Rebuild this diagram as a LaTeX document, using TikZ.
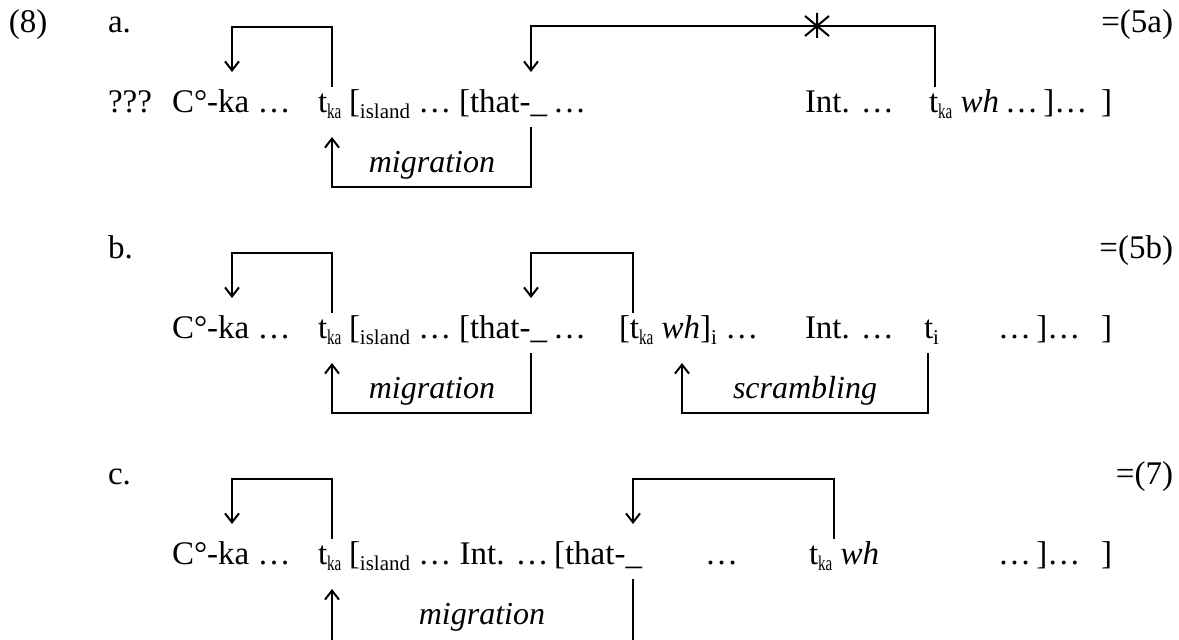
\documentclass[tikz,border=0pt]{standalone}
\usepackage{fontspec}
\setmainfont{Liberation Serif}
\usetikzlibrary{arrows.meta,calc}
% lowered small subscripts used for labels and trace indices
\newcommand{\lsub}[1]{\raisebox{-3pt}{\fontsize{10.5}{10.5}\selectfont #1}}
\newcommand{\ksub}{\raisebox{-3pt}{\fontsize{10.5}{10.5}\selectfont\scalebox{0.72}[1]{ka}}}
\begin{document}
\begin{tikzpicture}[x=0.5pt,y=-0.5pt,
  txt/.style={inner sep=0pt,outer sep=0pt,font=\fontsize{16.5}{19}\selectfont},
  lbl/.style={inner sep=0pt,outer sep=0pt,font=\fontsize{16}{19}\selectfont\itshape,anchor=base},
  mv/.style={line width=1pt,-{Straight Barb[length=4.5pt,width=7pt]}},
  ln/.style={line width=1pt}]
\useasboundingbox (0,0) rectangle (1179,640);
\clip (0,0) rectangle (1179,640);

% ---------- (8a) ----------
\node[txt,anchor=base west] (n8) at (9,33) {(8)};
\node[txt,anchor=base west] (la) at (108,33) {a.};
\node[txt,anchor=base east] (ra) at (1173,33) {=(5a)};
\node[txt,anchor=base west] (aq) at (108,113) {???};
\node[txt,anchor=base west] (ac) at (172,113) {C°-ka …};
\node[txt,anchor=base west] (at) at (318,113) {t\ksub};
\node[txt,anchor=base west] (ai) at (349,113) {[\lsub{island} …};
\node[txt,anchor=base east] (ath) at (547,113) {[that-\_};
\node[txt,anchor=base west] (ad1) at (553,113) {…};
\node[txt,anchor=base west] (aint) at (805,113) {Int. …};
\node[txt,anchor=base west] (awh) at (929,113) {t\ksub\ \textit{wh}};
\node[txt,anchor=base west] (adots) at (1005,113) {…\,]…};
\node[txt,anchor=base east] (aend) at (1112,113) {]};

\coordinate (a1s) at (332,87);  \coordinate (a1e) at (232,72);
\coordinate (a2s) at (935,87);  \coordinate (a2e) at (531,72);
\coordinate (a3s) at (531,127); \coordinate (a3e) at (332,137);
\coordinate (star) at (817,26);
\draw[mv] (a1s) -- ++(0,-60) -| (a1e);
\draw[mv] (a2s) -- ++(0,-61) -| (a2e);
\draw[mv] (a3s) -- ++(0,60) -| (a3e);
\draw[ln] ($(star)+(0,-13)$) -- ($(star)+(0,12)$)
          ($(star)+(-12,-10)$) -- ($(star)+(12,10)$)
          ($(star)+(12,-10)$) -- ($(star)+(-12,10)$);
\node[lbl] (am) at (432,173) {migration};

% ---------- (8b) ----------
\node[txt,anchor=base west] (lb) at (108,259) {b.};
\node[txt,anchor=base east] (rb) at (1173,259) {=(5b)};
\node[txt,anchor=base west] (bc) at (172,339) {C°-ka …};
\node[txt,anchor=base west] (bt) at (318,339) {t\ksub};
\node[txt,anchor=base west] (bi) at (349,339) {[\lsub{island} …};
\node[txt,anchor=base east] (bth) at (547,339) {[that-\_};
\node[txt,anchor=base west] (bd1) at (553,339) {…};
\node[txt,anchor=base west] (bwh) at (619,339) {[t\ksub\ \textit{wh}]\lsub{i} …};
\node[txt,anchor=base west] (bint) at (805,339) {Int. …};
\node[txt,anchor=base west] (bti) at (924,339) {t\lsub{i}};
\node[txt,anchor=base west] (bdots) at (998,339) {…\,]…};
\node[txt,anchor=base east] (bend) at (1112,339) {]};

\coordinate (b1s) at (332,313); \coordinate (b1e) at (232,298);
\coordinate (b2s) at (633,313); \coordinate (b2e) at (531,298);
\coordinate (b3s) at (531,353); \coordinate (b3e) at (332,363);
\coordinate (b4s) at (928,353); \coordinate (b4e) at (682,363);
\draw[mv] (b1s) -- ++(0,-60) -| (b1e);
\draw[mv] (b2s) -- ++(0,-60) -| (b2e);
\draw[mv] (b3s) -- ++(0,60) -| (b3e);
\draw[mv] (b4s) -- ++(0,60) -| (b4e);
\node[lbl] (bm) at (432,399) {migration};
\node[lbl] (bs) at (805,399) {scrambling};

% ---------- (8c) ----------
\node[txt,anchor=base west] (lc) at (108,485) {c.};
\node[txt,anchor=base east] (rc) at (1173,485) {=(7)};
\node[txt,anchor=base west] (cc) at (172,565) {C°-ka …};
\node[txt,anchor=base west] (ct) at (318,565) {t\ksub};
\node[txt,anchor=base west] (ci) at (349,565) {[\lsub{island} … Int. …};
\node[txt,anchor=base east] (cth) at (642,565) {[that-\_};
\node[txt,anchor=base west] (cd1) at (705,565) {…};
\node[txt,anchor=base west] (cwh) at (809,565) {t\ksub\ \textit{wh}};
\node[txt,anchor=base west] (cdots) at (998,565) {…\,]…};
\node[txt,anchor=base east] (cend) at (1112,565) {]};

\coordinate (c1s) at (332,539); \coordinate (c1e) at (232,524);
\coordinate (c2s) at (834,539); \coordinate (c2e) at (633,524);
\coordinate (c3s) at (633,579); \coordinate (c3e) at (332,589);
\draw[mv] (c1s) -- ++(0,-60) -| (c1e);
\draw[mv] (c2s) -- ++(0,-60) -| (c2e);
\draw[mv] (c3s) -- ++(0,70) -| (c3e);
\node[lbl] (cm) at (482,625) {migration};
\end{tikzpicture}
\end{document}
